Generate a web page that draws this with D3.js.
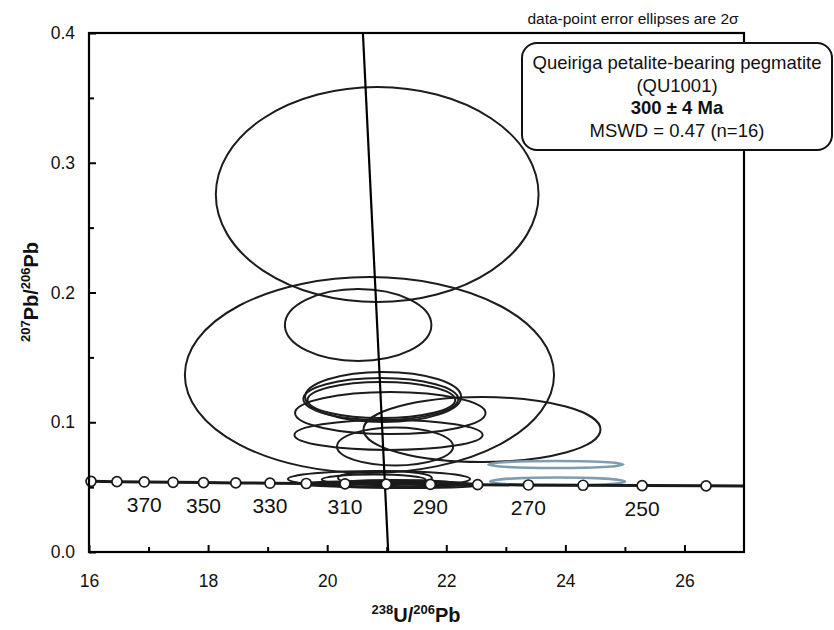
<!DOCTYPE html>
<html><head><meta charset="utf-8">
<script src="https://cdn.jsdelivr.net/npm/d3@7"></script>
<style>
body{margin:0;background:#fff}
svg{display:block}
text{font-family:"Liberation Sans",Arial,Helvetica,sans-serif;fill:#111}
</style>
</head><body>
<svg id="chart" width="834" height="630"></svg>
<script>
// ---- data ----
const concAge = [230,240,250,260,270,280,290,300,310,320,330,340,350,360,370,380,390,400];
const concX = [27.531,26.363,25.289,24.297,23.379,22.527,21.733,20.992,20.299,19.649,19.039,18.465,17.923,17.412,16.928,16.469,16.034,15.621];
const concY = [0.050761,0.050982,0.051204,0.051427,0.051652,0.051877,0.052104,0.052333,0.052564,0.052795,0.053028,0.053263,0.053499,0.053736,0.053975,0.054216,0.054458,0.054701];
const markerAges = [240,250,260,270,280,290,300,310,320,330,340,350,360,370,380,390];
const ageLabels = [370,350,330,310,290,270,250];

const ellX    = [20.84, 20.71, 20.52, 20.94, 20.90, 20.91, 21.06, 21.03, 21.14, 22.60, 20.87, 20.78, 20.97, 20.97, 21.31, 21.14, 23.84, 23.87];
const ellY    = [0.2755,0.1364,0.1750,0.1195,0.1179,0.1171,0.1071,0.0902,0.0813,0.0944,0.0563,0.0559,0.0570,0.0524,0.0516,0.0528,0.0674,0.0543];
const ellErrX = [2.71, 3.10, 1.23, 1.31, 1.30, 1.24, 1.60, 1.58, 0.975, 1.99, 1.53, 0.87, 0.79, 1.43, 1.26, 1.01, 1.134, 1.134];
const ellErrY = [0.0829,0.0755,0.0277,0.0193,0.0162,0.0139,0.0162,0.0116,0.0146,0.0250,0.0062,0.0039,0.0054,0.0023,0.0023,0.0027,0.0027,0.0031];
const ellUsed = [1,1,1,1,1,1,1,1,1,1,1,1,1,1,1,1,0,0];

const discX = [20.60, 21.025];
const discY = [0.4, 0.0];

const xMajor = [16,18,20,22,24,26];
const xMinor = [17,19,21,23,25];
const yMajor = [0.0,0.1,0.2,0.3,0.4];
const yMinor = [0.05,0.15,0.25,0.35];

const noteText = "data-point error ellipses are 2σ";
const legendLines = ["Queiriga petalite-bearing pegmatite","(QU1001)","300 ± 4 Ma","MSWD = 0.47 (n=16)"];

// ---- layout ----
const L = 89, R = 744, T = 33, B = 552;
const svg = d3.select("#chart");
const x = d3.scaleLinear().domain([16,27]).range([L,R]);
const y = d3.scaleLinear().domain([0,0.4]).range([B,T]);

svg.append("defs").append("clipPath").attr("id","plot")
  .append("rect").attr("x",L).attr("y",T).attr("width",R-L).attr("height",B-T);

const plot = svg.append("g").attr("clip-path","url(#plot)");

// ellipses
const ell = ellX.map((v,i)=>({x:v,y:ellY[i],ex:ellErrX[i],ey:ellErrY[i],u:ellUsed[i]}));
plot.selectAll("ellipse.e").data(ell).join("ellipse")
  .attr("class","e")
  .attr("cx",d=>x(d.x)).attr("cy",d=>y(d.y))
  .attr("rx",d=>x(d.x+d.ex)-x(d.x))
  .attr("ry",d=>y(d.y)-y(d.y+d.ey))
  .attr("fill","none")
  .attr("stroke",d=>d.u? "#1c1c1c" : "#7f9db0")
  .attr("stroke-width",d=>d.u? 2 : 2.5);

// discordia
plot.append("path")
  .datum(discX.map((v,i)=>[v,discY[i]]))
  .attr("d",d3.line().x(d=>x(d[0])).y(d=>y(d[1])))
  .attr("fill","none").attr("stroke","#000").attr("stroke-width",2.2);

// concordia
const conc = concAge.map((a,i)=>({a, x:concX[i], y:concY[i]}));
plot.append("path").datum(conc)
  .attr("d",d3.line().x(d=>x(d.x)).y(d=>y(d.y)))
  .attr("fill","none").attr("stroke","#1a1a1a").attr("stroke-width",3);

const marks = conc.filter(d=>markerAges.includes(d.a));
svg.selectAll("circle.m").data(marks).join("circle")
  .attr("class","m")
  .attr("cx",d=>x(d.x)).attr("cy",d=>y(d.y)).attr("r",5)
  .attr("fill","#fff").attr("stroke","#1a1a1a").attr("stroke-width",1.7);

svg.selectAll("text.age").data(conc.filter(d=>ageLabels.includes(d.a))).join("text")
  .attr("class","age")
  .attr("x",d=>x(d.x)).attr("y",d=>y(d.y)+30)
  .attr("text-anchor","middle").attr("font-size",21)
  .text(d=>d.a);

// axes
function styleAxis(g){
  g.select(".domain").remove();
  g.selectAll(".tick line").attr("stroke","#000").attr("stroke-width",2);
  g.selectAll(".tick text").attr("font-size",17.5).attr("fill","#111")
   .attr("font-family",'"Liberation Sans",Arial,sans-serif');
}
svg.append("g").attr("transform",`translate(0,${B})`)
  .call(d3.axisBottom(x).tickValues(xMajor).tickFormat(d3.format("d")).tickSizeInner(-7).tickSizeOuter(0).tickPadding(23))
  .call(styleAxis);
svg.append("g").attr("transform",`translate(0,${B})`)
  .call(d3.axisBottom(x).tickValues(xMinor).tickFormat("").tickSizeInner(-5).tickSizeOuter(0))
  .call(styleAxis);
svg.append("g").attr("transform",`translate(${L},0)`)
  .call(d3.axisLeft(y).tickValues(yMajor).tickFormat(d3.format(".1f")).tickSizeInner(-7).tickSizeOuter(0).tickPadding(14))
  .call(styleAxis);
svg.append("g").attr("transform",`translate(${L},0)`)
  .call(d3.axisLeft(y).tickValues(yMinor).tickFormat("").tickSizeInner(-5).tickSizeOuter(0))
  .call(styleAxis);

// frame
svg.append("rect").attr("x",L).attr("y",T).attr("width",R-L).attr("height",B-T)
  .attr("fill","none").attr("stroke","#000").attr("stroke-width",2.2);

// axis titles
const xt = svg.append("text").attr("x",416).attr("y",622).attr("text-anchor","middle")
  .attr("font-weight","bold").attr("font-size",20);
xt.append("tspan").attr("font-size",13).attr("dy",-8).text("238");
xt.append("tspan").attr("dy",8).text("U/");
xt.append("tspan").attr("font-size",13).attr("dy",-8).text("206");
xt.append("tspan").attr("dy",8).text("Pb");

const yt = svg.append("text").attr("transform","translate(38,292) rotate(-90)")
  .attr("text-anchor","middle").attr("font-weight","bold").attr("font-size",20);
yt.append("tspan").attr("font-size",13).attr("dy",-8).text("207");
yt.append("tspan").attr("dy",8).text("Pb/");
yt.append("tspan").attr("font-size",13).attr("dy",-8).text("206");
yt.append("tspan").attr("dy",8).text("Pb");

// note
svg.append("text").attr("x",633).attr("y",24).attr("text-anchor","middle")
  .attr("font-size",15.5).text(noteText);

// legend box
svg.append("rect").attr("x",522).attr("y",43).attr("width",310).attr("height",107)
  .attr("rx",15).attr("ry",15).attr("fill","#fff").attr("stroke","#111").attr("stroke-width",2);
svg.selectAll("text.lg").data(legendLines).join("text")
  .attr("class","lg")
  .attr("x",677).attr("y",(d,i)=>69+i*22.7)
  .attr("text-anchor","middle").attr("font-size",18.5)
  .attr("font-weight",(d,i)=>i===2?"bold":"normal")
  .text(d=>d);
</script>
</body></html>
